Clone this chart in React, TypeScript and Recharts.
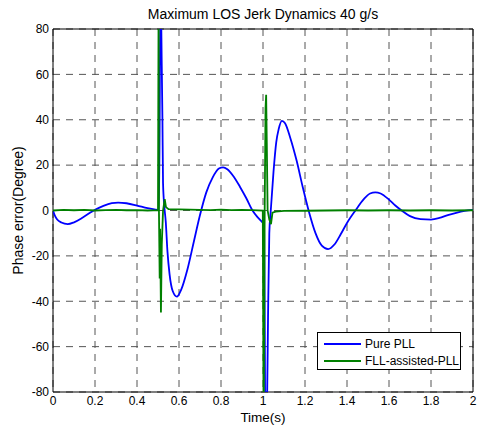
import {
  LineChart,
  Line,
  XAxis,
  YAxis,
  CartesianGrid,
  ReferenceArea,
} from 'recharts';

// Pure PLL phase error (t in s, deg)
const pureT = [
  0, 0.01, 0.02, 0.04, 0.07, 0.1, 0.14, 0.18, 0.2, 0.24, 0.28, 0.31, 0.35, 0.4, 0.45, 0.49,
  0.505, 0.512, 0.518, 0.521, 0.524, 0.53, 0.537, 0.545, 0.555, 0.57, 0.59, 0.61, 0.64, 0.67,
  0.7, 0.73, 0.76, 0.79, 0.81, 0.83, 0.86, 0.89, 0.92, 0.95, 0.975, 0.995, 1.005, 1.012,
  1.02, 1.024, 1.03, 1.037, 1.05, 1.063, 1.075, 1.09, 1.105, 1.13, 1.16, 1.19, 1.22, 1.25,
  1.28, 1.31, 1.34, 1.37, 1.4, 1.44, 1.48, 1.51, 1.535, 1.56, 1.6, 1.63, 1.66, 1.7, 1.75,
  1.8, 1.84, 1.88, 1.92, 1.96, 2.0,
];
const pureV = [
  0, -2.5, -4, -5.3, -6, -5.2, -3.2, -0.8, 0.3, 2, 3.2, 3.5, 3.2, 2.2, 1, 0.4,
  0.2, 100, 63, 41, 12, 2, -5, -18, -28, -35.5, -38, -35, -26, -14,
  -2, 8, 14.5, 18.5, 19, 18.2, 15, 10.5, 5.5, 0, -3, -5, -6, -100,
  -80, -47, -10, 0, 17, 30, 36, 39.5, 38.5, 32, 22, 10, -1, -10,
  -15.5, -17, -15, -10.5, -5.5, 0, 5, 7.5, 8, 7.5, 4.8, 2.2, 0, -2.5, -3.8,
  -4, -3.3, -2, -1, -0.2, 0.3,
];

// FLL-assisted PLL phase error
const fllT = [
  0, 0.05, 0.1, 0.15, 0.2, 0.25, 0.3, 0.35, 0.4, 0.45, 0.5, 0.503, 0.5045, 0.508, 0.51,
  0.514, 0.518, 0.524, 0.532, 0.538, 0.55, 0.6, 0.65, 0.7, 0.75, 0.8, 0.85, 0.9, 0.95,
  0.999, 1.003, 1.008, 1.012, 1.015, 1.018, 1.022, 1.03, 1.038, 1.045, 1.06, 1.1, 1.2,
  1.3, 1.4, 1.5, 1.6, 1.7, 1.8, 1.9, 2.0,
];
const fllV = [
  0, 0.3, 0.1, 0.3, 0, 0.2, 0.3, 0.1, 0.2, 0, 0.2, 100, 0, -30, -8,
  -45, -15, 0, 5, 1.5, 0.6, 0.5, 0.4, 0.3, 0.2, 0.4, 0.2, 0.3, 0.2,
  0, -100, 0, 45, 51, 30, 0, -4, -6, -1, -0.5, -0.2, -0.1,
  0, 0.1, 0, 0.1, 0, 0.1, 0, 0.1,
];

const xTicks = [0, 0.2, 0.4, 0.6, 0.8, 1, 1.2, 1.4, 1.6, 1.8, 2];
const yTicks = [-80, -60, -40, -20, 0, 20, 40, 60, 80];

const pureData = pureT.map((t, i) => ({ t, v: pureV[i] }));
const fllData = fllT.map((t, i) => ({ t, v: fllV[i] }));

const FONT = 'Arial, "Liberation Sans", Helvetica, sans-serif';

const BoxLegend = () => (
  <div
    style={{
      position: 'absolute',
      left: 317,
      top: 332,
      border: '1px solid #000',
      background: '#fff',
      width: 144,
      height: 38,
      boxSizing: 'border-box',
      fontFamily: FONT,
      fontSize: 12,
      color: '#000',
      padding: '2px 0 0 6px',
      whiteSpace: 'nowrap',
    }}
  >
    {[
      { name: 'Pure PLL', color: '#0000ff' },
      { name: 'FLL-assisted-PLL', color: '#008000' },
    ].map((item) => (
      <div key={item.name} style={{ display: 'flex', alignItems: 'center', height: 17 }}>
        <span style={{ display: 'inline-block', width: 37, height: 2, background: item.color, marginRight: 4 }} />
        <span>{item.name}</span>
      </div>
    ))}
  </div>
);

export default function App() {
  return (
    <div style={{ position: 'absolute', left: 0, top: 0, width: 478, height: 425, background: '#fff', fontFamily: FONT }}>
      <div
        style={{
          position: 'absolute',
          left: 53,
          width: 420,
          top: 6,
          textAlign: 'center',
          fontSize: 14,
          color: '#000',
        }}
      >
        Maximum LOS Jerk Dynamics 40 g/s
      </div>
      <LineChart width={478} height={425} margin={{ top: 29, right: 5, bottom: 0, left: 0 }}>
        <CartesianGrid stroke="#555" strokeDasharray="7 6" />
        <XAxis
          type="number"
          dataKey="t"
          domain={[0, 2]}
          ticks={xTicks}
          allowDataOverflow
          height={33}
          tickLine={false}
          axisLine={false}
          tickSize={2}
          tickMargin={2}
          tick={{ fontSize: 12, fill: '#000', fontFamily: FONT }}
          label={{ value: 'Time(s)', position: 'insideBottom', offset: 3, fontSize: 13.5, fill: '#000', fontFamily: FONT }}
        />
        <YAxis
          type="number"
          domain={[-80, 80]}
          ticks={yTicks}
          allowDataOverflow
          width={53}
          tickLine={false}
          axisLine={false}
          tickSize={2}
          tickMargin={2}
          tick={{ fontSize: 12, fill: '#000', fontFamily: FONT }}
          label={{
            value: 'Phase error(Degree)',
            angle: -90,
            position: 'insideLeft',
            offset: 18,
            style: { textAnchor: 'middle' },
            fontSize: 14,
            fill: '#000',
            fontFamily: FONT,
          }}
        />
        <ReferenceArea x1={0} x2={2} y1={-80} y2={80} fill="none" fillOpacity={0} stroke="#000" strokeWidth={1} />
        <Line
          data={pureData}
          dataKey="v"
          name="Pure PLL"
          type="monotone"
          stroke="#0000ff"
          strokeWidth={1.8}
          dot={false}
          isAnimationActive={false}
        />
        <Line
          data={fllData}
          dataKey="v"
          name="FLL-assisted-PLL"
          type="linear"
          stroke="#008000"
          strokeWidth={1.8}
          dot={false}
          isAnimationActive={false}
        />
      </LineChart>
      <BoxLegend />
    </div>
  );
}
